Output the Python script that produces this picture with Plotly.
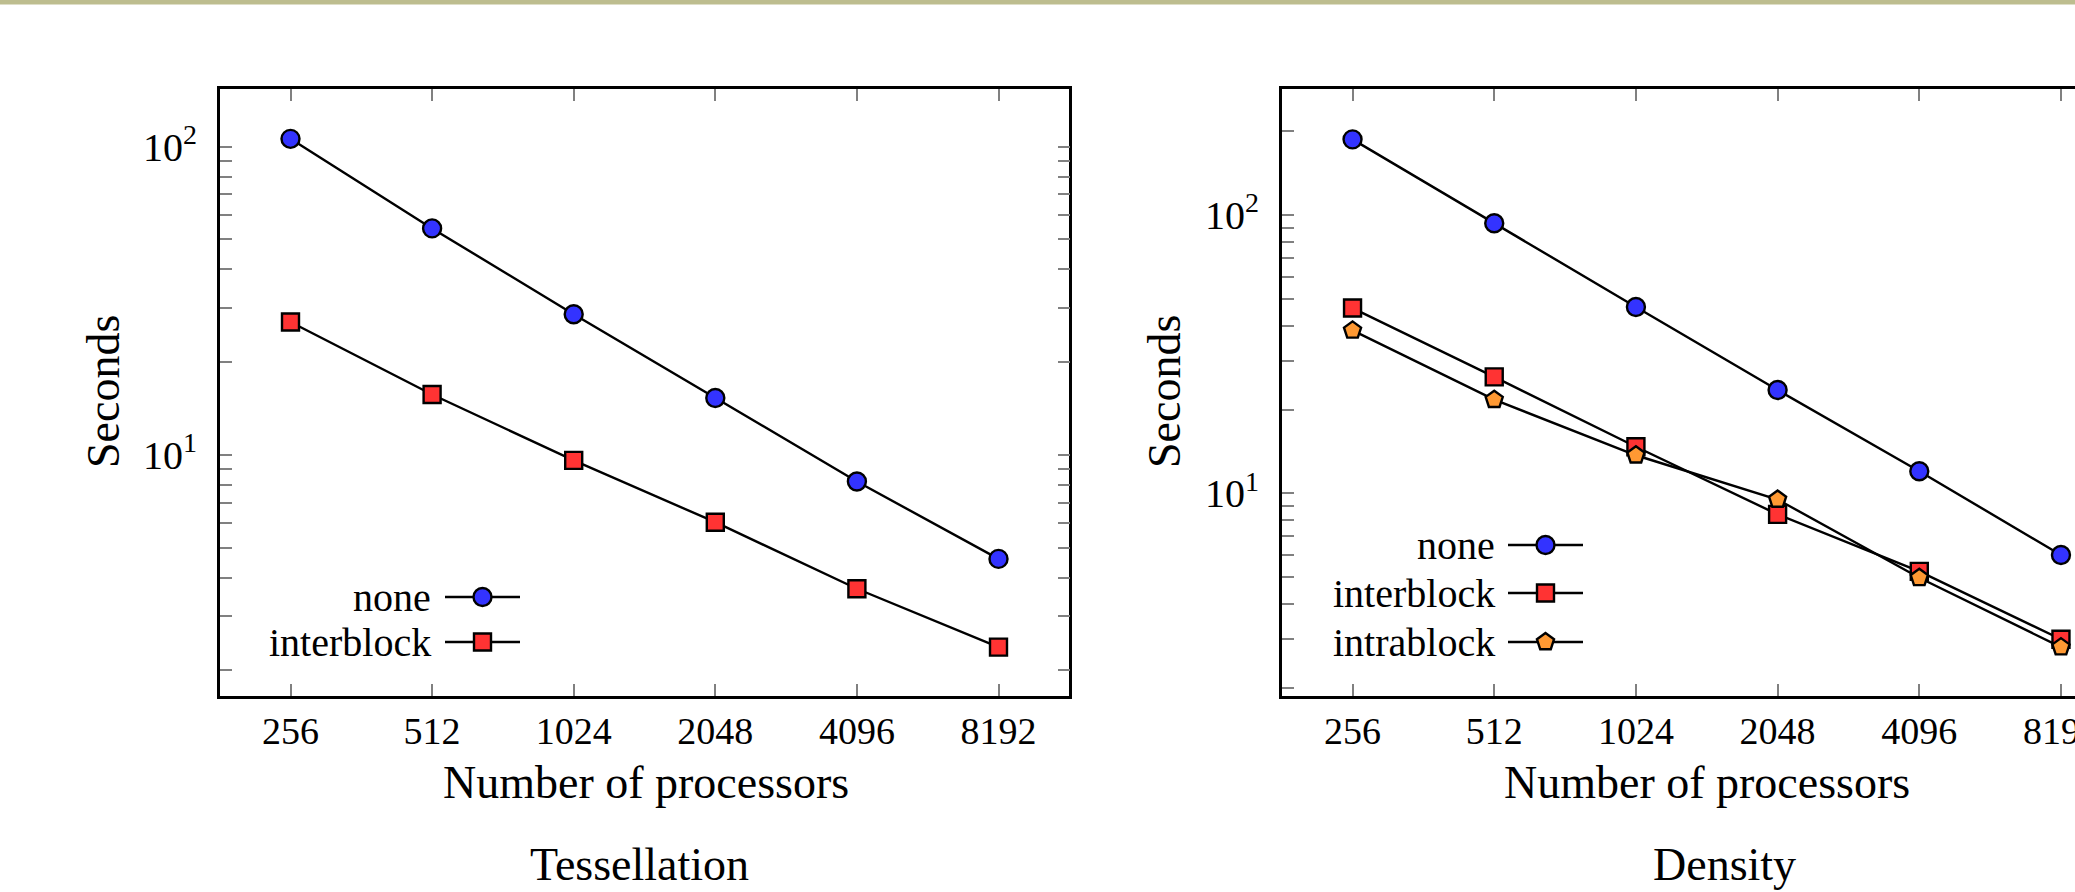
import plotly.graph_objects as go

# ---- data -------------------------------------------------------------
procs = [256, 512, 1024, 2048, 4096, 8192]
proc_labels = ["256", "512", "1024", "2048", "4096", "8192"]

tess_none = [106, 54.3, 28.6, 15.3, 8.2, 4.6]
tess_interblock = [27.0, 15.7, 9.6, 6.05, 3.68, 2.38]

dens_none = [187, 93.4, 46.7, 23.5, 12.0, 6.0]
dens_interblock = [46.3, 26.2, 14.7, 8.4, 5.24, 2.99]
dens_intrablock = [38.5, 21.7, 13.7, 9.5, 4.97, 2.80]

y_tickvals = [2, 3, 4, 5, 6, 7, 8, 9, 10, 20, 30, 40, 50, 60, 70, 80, 90, 100, 200]
y_ticktext = ["10<sup>1</sup>" if v == 10 else "10<sup>2</sup>" if v == 100 else "" for v in y_tickvals]

# ---- page geometry (pixels) -------------------------------------------
W, H = 2075, 892
FONT = "Liberation Serif"


def px(x):
    return x / W


def py(y):
    return 1 - y / H


STYLE = {
    "none": dict(symbol="circle", color="#3333ff", size=18),
    "interblock": dict(symbol="square", color="#ff3333", size=17),
    "intrablock": dict(symbol="pentagon", color="#ff9933", size=18),
}
LINE_W = 2.4

fig = go.Figure()


def add_series(xa, ya, name, values):
    st = STYLE[name]
    fig.add_trace(go.Scatter(
        x=procs, y=values, xaxis=xa, yaxis=ya, name=name, showlegend=False,
        mode="lines+markers",
        line=dict(color="black", width=LINE_W),
        marker=dict(symbol=st["symbol"], size=st["size"], color=st["color"],
                    line=dict(color="black", width=LINE_W)),
        cliponaxis=False,
    ))


add_series("x", "y", "none", tess_none)
add_series("x", "y", "interblock", tess_interblock)
add_series("x2", "y2", "none", dens_none)
add_series("x2", "y2", "interblock", dens_interblock)
add_series("x2", "y2", "intrablock", dens_intrablock)

# ---- legend keys drawn on a pixel-space overlay --------------------------
annotations = []


def legend_entry(name, text_right, y, x0, x1):
    st = STYLE[name]
    fig.add_trace(go.Scatter(x=[x0, x1], y=[y, y], xaxis="x3", yaxis="y3",
                             mode="lines", line=dict(color="black", width=LINE_W),
                             showlegend=False, hoverinfo="skip"))
    fig.add_trace(go.Scatter(x=[(x0 + x1) / 2], y=[y], xaxis="x3", yaxis="y3",
                             mode="markers", showlegend=False, hoverinfo="skip",
                             marker=dict(symbol=st["symbol"], size=st["size"], color=st["color"],
                                         line=dict(color="black", width=LINE_W))))
    annotations.append(dict(x=px(text_right), y=py(y), xref="paper", yref="paper",
                            text=name, showarrow=False, xanchor="right", yanchor="middle",
                            font=dict(family=FONT, size=40, color="black")))


legend_entry("none", 433, 597, 445, 520)
legend_entry("interblock", 433, 642, 445, 520)
legend_entry("none", 1497, 545, 1508, 1583)
legend_entry("interblock", 1497, 593, 1508, 1583)
legend_entry("intrablock", 1497, 642, 1508, 1583)


# ---- titles and captions -------------------------------------------------
def text(x, y, s, size, angle=0, yanchor="middle"):
    annotations.append(dict(x=px(x), y=py(y), xref="paper", yref="paper", text=s,
                            showarrow=False, xanchor="center", yanchor=yanchor,
                            textangle=angle, font=dict(family=FONT, size=size, color="black")))


text(646, 782, "Number of processors", 46)
text(1707, 782, "Number of processors", 46)
text(104, 392, "Seconds", 46, -90)
text(1165, 392, "Seconds", 46, -90)
text(639, H, "Tessellation", 46, yanchor="bottom")
text(1724, H, "Density", 46, yanchor="bottom")

# ---- axes ----------------------------------------------------------------
LOG2 = 0.30102999566
y_dom = [py(696), py(89)]

common_x = dict(type="log", tickvals=procs, ticktext=proc_labels,
                showline=True, linecolor="black", linewidth=2.6,
                ticks="inside", ticklen=12, tickwidth=2.4, tickcolor="#808080",
                showgrid=False, zeroline=False, fixedrange=True, automargin=False,
                ticklabeloverflow="allow",
                tickfont=dict(family=FONT, size=38, color="black"))
common_y = dict(type="log", tickvals=y_tickvals, ticktext=y_ticktext,
                showline=True, linecolor="black", linewidth=2.6,
                ticks="inside", ticklen=12, tickwidth=2.4, tickcolor="#808080",
                showgrid=False, zeroline=False, fixedrange=True, automargin=False,
                ticklabelstandoff=12,
                tickfont=dict(family=FONT, size=40, color="black"))

fig.update_layout(
    width=W, height=H,
    margin=dict(l=0, r=0, t=0, b=0, autoexpand=False),
    paper_bgcolor="white", plot_bgcolor="rgba(0,0,0,0)",
    showlegend=False,
    xaxis=dict(common_x, domain=[px(219.7), px(1069.3)], range=[7.5 * LOG2, 13.5 * LOG2],
               anchor="y", mirror="ticks"),
    yaxis=dict(common_y, domain=y_dom, range=[0.218, 2.187], anchor="x", mirror="ticks"),
    xaxis2=dict(common_x, domain=[px(1281.7), 1.0], range=[7.5 * LOG2, 13.099 * LOG2],
                anchor="y2", mirror="ticks"),
    yaxis2=dict(common_y, domain=y_dom, range=[0.2716, 2.4528], anchor="x2", mirror=False),
    xaxis3=dict(domain=[0, 1], range=[0, W], visible=False, fixedrange=True, anchor="y3"),
    yaxis3=dict(domain=[0, 1], range=[H, 0], visible=False, fixedrange=True, anchor="x3"),
    annotations=annotations,
    shapes=[dict(type="rect", xref="paper", yref="paper", x0=0, x1=1, y0=py(4.5), y1=1,
                 fillcolor="#bdbd8f", line=dict(width=0), layer="above")],
)

fig.write_html("out.html", config={"displayModeBar": False})
